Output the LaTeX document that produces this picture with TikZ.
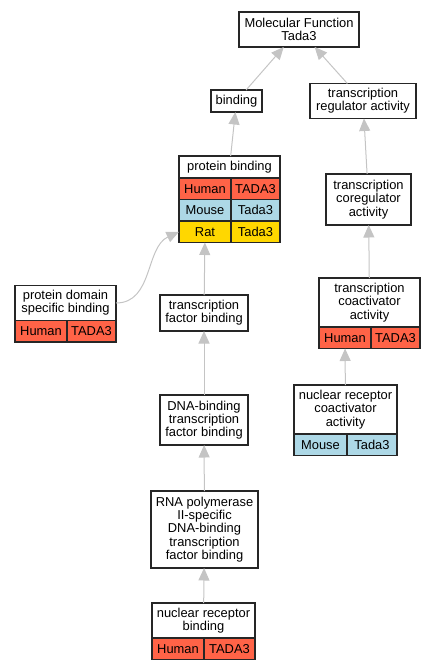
\documentclass[tikz,border=0pt]{standalone}
\usepackage{fontspec}
\setmainfont{Liberation Sans}
\usepackage{tikz}
\usetikzlibrary{positioning,arrows.meta}

\definecolor{human}{HTML}{FF6347}
\definecolor{mouse}{HTML}{ADD8E6}
\definecolor{rat}{HTML}{FFD700}
\definecolor{linkgray}{HTML}{C4C4C4}

\tikzset{
  term/.style={draw=black!85, line width=1.1pt, fill=white, align=center, inner sep=2pt,
    outer sep=0pt, font=\fontsize{12.9}{13.3}\selectfont},
  cell/.style={draw=black!85, line width=1.1pt, inner sep=0pt, outer sep=0pt,
    minimum height=21.5pt, font=\fontsize{12.9}{13.3}\selectfont},
  link/.style={draw=linkgray, line width=1pt, -{Triangle[length=12.5pt,width=11pt]}}
}

\begin{document}
\begin{tikzpicture}
  \useasboundingbox (0,0) rectangle (435pt,-672pt);

  \node [term, minimum width=120pt, minimum height=35pt] (mf) at (299pt,-29.5pt) {Molecular Function\\Tada3};
  \node [term, minimum width=51pt, minimum height=22pt, below=43pt of mf, xshift=-62.5pt] (bind) {binding};
  \node [term, minimum width=106pt, minimum height=35pt, below=36.5pt of mf, xshift=64pt] (treg) {transcription\\regulator activity};

  \node [term, minimum width=101pt, minimum height=22pt, below=44pt of bind, xshift=-7pt] (pb) {protein binding};
  \node [cell, fill=human, minimum width=52pt, anchor=north west] (pb1) at (pb.south west) {Human};
  \node [cell, fill=human, minimum width=49pt, anchor=north east] (pb2) at (pb.south east) {TADA3};
  \node [cell, fill=mouse, minimum width=52pt, below=0pt of pb1] (pb3) {Mouse};
  \node [cell, fill=mouse, minimum width=49pt, below=0pt of pb2] (pb4) {Tada3};
  \node [cell, fill=rat, minimum width=52pt, below=0pt of pb3] (pb5) {Rat};
  \node [cell, fill=rat, minimum width=49pt, below=0pt of pb4] (pb6) {Tada3};

  \node [term, minimum width=85pt, minimum height=51pt, below=55.5pt of treg, xshift=5.5pt] (coreg) {transcription\\coregulator\\activity};
  \node [term, minimum width=101pt, minimum height=49pt, below=53pt of coreg, xshift=1pt] (coact) {transcription\\coactivator\\activity};
  \node [cell, fill=human, minimum width=52pt, anchor=north west] (coact1) at (coact.south west) {Human};
  \node [cell, fill=human, minimum width=49pt, anchor=north east] (coact2) at (coact.south east) {TADA3};

  \node [term, minimum width=103pt, minimum height=49pt, below=58pt of coact, xshift=-24pt] (nrca) {nuclear receptor\\coactivator\\activity};
  \node [cell, fill=mouse, minimum width=53pt, anchor=north west] (nrca1) at (nrca.south west) {Mouse};
  \node [cell, fill=mouse, minimum width=50pt, anchor=north east] (nrca2) at (nrca.south east) {Tada3};

  \node [term, minimum width=88pt, minimum height=36pt, below=117pt of pb, xshift=-25.5pt] (tfb) {transcription\\factor binding};
  \node [term, minimum width=101pt, minimum height=35pt, left=44pt of tfb, yshift=10pt] (pdsb) {protein domain\\specific binding};
  \node [cell, fill=human, minimum width=52pt, anchor=north west] (pdsb1) at (pdsb.south west) {Human};
  \node [cell, fill=human, minimum width=49pt, anchor=north east] (pdsb2) at (pdsb.south east) {TADA3};

  \node [term, minimum width=88pt, minimum height=50pt, below=64pt of tfb] (dbtfb) {DNA-binding\\transcription\\factor binding};
  \node [term, minimum width=107pt, minimum height=77pt, below=46pt of dbtfb, xshift=0.5pt] (rnap) {RNA polymerase\\II-specific\\DNA-binding\\transcription\\factor binding};
  \node [term, minimum width=103pt, minimum height=35pt, below=35pt of rnap, xshift=-1pt] (nrb) {nuclear receptor\\binding};
  \node [cell, fill=human, minimum width=52pt, anchor=north west] (nrb1) at (nrb.south west) {Human};
  \node [cell, fill=human, minimum width=51pt, anchor=north east] (nrb2) at (nrb.south east) {TADA3};

  \draw [link] (bind) -- (mf);
  \draw [link] (treg) -- (mf);
  \draw [link] (pb) -- (bind);
  \draw [link] (coreg) -- (treg);
  \draw [link] (coact) -- (coreg);
  \draw [link] (nrca) -- (coact1);
  \draw [link] (pdsb.east) to[out=0, in=-155] (pb5.west);
  \draw [link] (tfb) -- (pb5);
  \draw [link] (dbtfb) -- (tfb);
  \draw [link] (rnap) -- (dbtfb);
  \draw [link] (nrb) -- (rnap);
\end{tikzpicture}
\end{document}
